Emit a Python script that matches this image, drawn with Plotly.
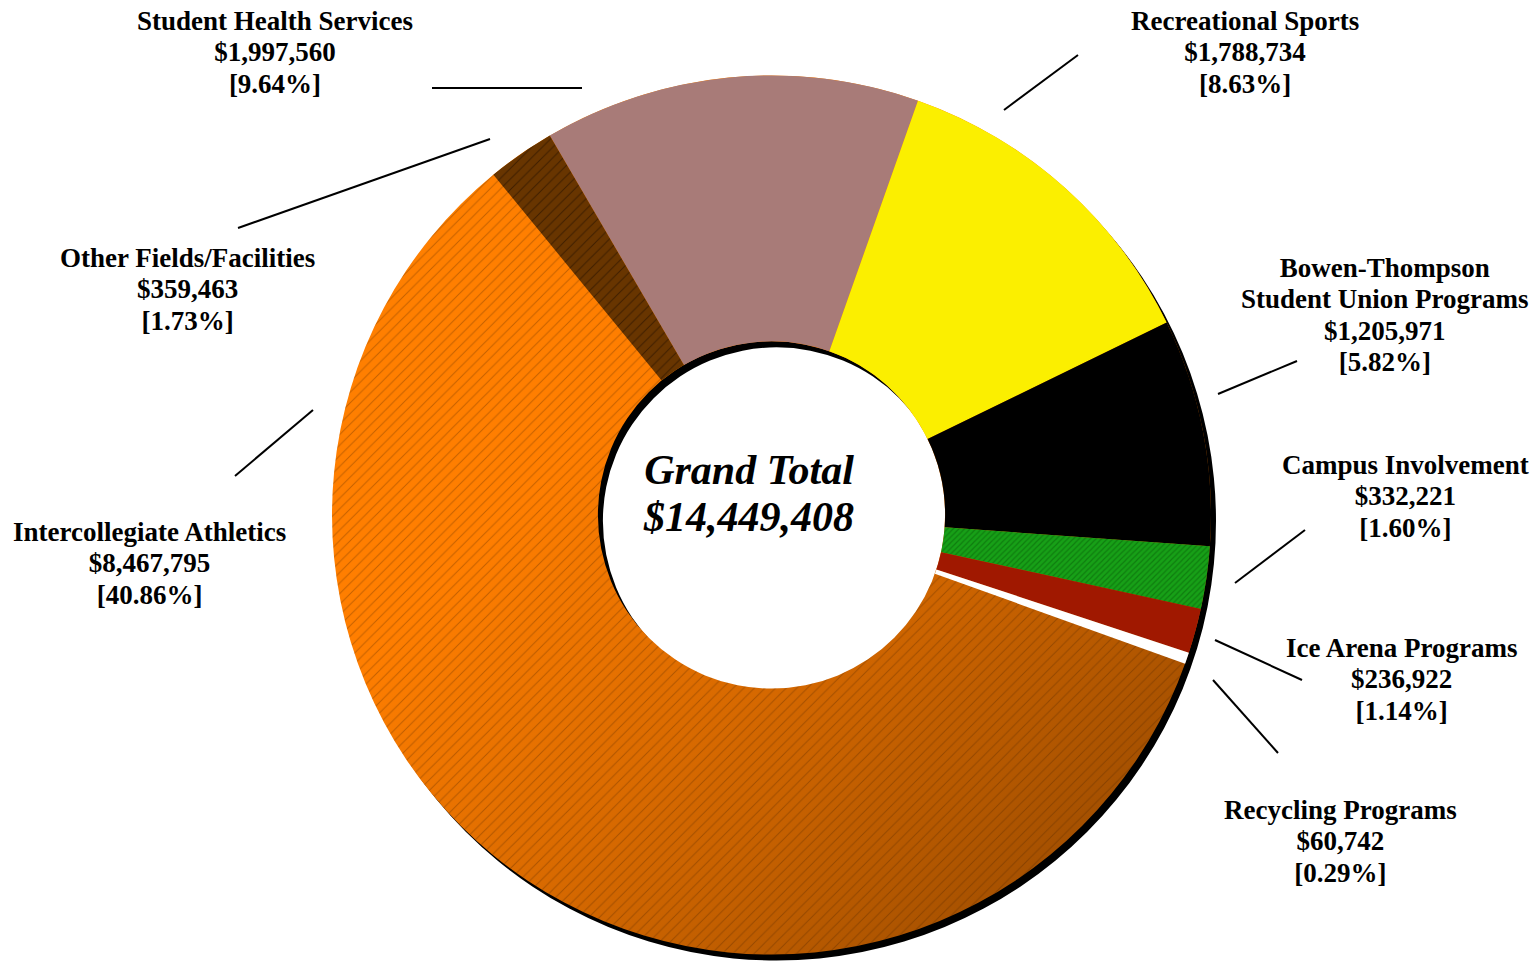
import base64
import plotly.graph_objects as go

# Budget lines, listed clockwise from the top of the ring
programs = [
    "Student Health Services",
    "Recreational Sports",
    "Bowen-Thompson Student Union Programs",
    "Campus Involvement",
    "Ice Arena Programs",
    "Recycling Programs",
    "Intercollegiate Athletics",
    "Other Fields/Facilities",
]
label_names = [
    ["Student Health Services"],
    ["Recreational Sports"],
    ["Bowen-Thompson", "Student Union Programs"],
    ["Campus Involvement"],
    ["Ice Arena Programs"],
    ["Recycling Programs"],
    ["Intercollegiate Athletics"],
    ["Other Fields/Facilities"],
]
amounts = [1997560, 1788734, 1205971, 332221, 236922, 60742, 8467795, 359463]
shares = [9.64, 8.63, 5.82, 1.60, 1.14, 0.29, 40.86, 1.73]
grand_total = 14449408

# ---- page geometry (pixels) ----
W, H = 1539, 962
CX, CY, R = 771.5, 515.0, 439.5
HOLE = 0.395
SHADOW_DX, SHADOW_DY = 5, 6


def px(x):
    return x / W


def py(y):
    return 1 - y / H


# slice styling
fills = ["#A87B78", "#FBEF00", "#000000", "#17A017", "#A01800", "#FFFFFF",
         "rgba(0,0,0,0)", "#683500"]
pat_shape = ["", "", "", "/", "", "", "/", "/"]
pat_size = [8, 8, 8, 4, 8, 8, 7.5, 7.5]
pat_solid = [0.1, 0.1, 0.1, 0.3, 0.1, 0.1, 0.13, 0.13]
pat_fg = ["#000", "#000", "#000", "rgba(0,60,0,0.35)", "#000", "#000",
          "rgba(70,30,0,0.32)", "rgba(20,8,0,0.5)"]
pat_bg = [c for c in fills]

# label anchor points (pixel centres) and leader segments
label_xy = [(275, 52), (1244.5, 52), (1384.5, 315.5), (1405, 496),
            (1401, 679), (1340, 841), (149, 563), (187, 290)]
leaders = [((432, 88), (582, 88)), ((1004, 110), (1078, 55)),
           ((1218, 394), (1297, 361)), ((1235, 583), (1305, 530)),
           ((1215, 640), (1302, 680)), ((1213, 680), (1278, 753)),
           ((235, 476), (313, 410)), ((238, 228), (490, 139))]

dom_x = [px(CX - R), px(CX + R)]
dom_y = [py(CY + R), py(CY - R)]


# backdrop: drop shadow ring plus the orange gradient that shows through the
# transparent athletics slice
def ring(cx, cy, ro, ri):
    return (f"M{cx - ro},{cy}a{ro},{ro} 0 1,0 {2 * ro},0a{ro},{ro} 0 1,0 {-2 * ro},0Z"
            f"M{cx - ri},{cy}a{ri},{ri} 0 1,0 {2 * ri},0a{ri},{ri} 0 1,0 {-2 * ri},0Z")


r_in = R * HOLE
svg = (
    f'<svg xmlns="http://www.w3.org/2000/svg" width="{W}" height="{H}" '
    f'viewBox="0 0 {W} {H}"><defs>'
    f'<linearGradient id="g" gradientUnits="userSpaceOnUse" x1="{CX - R}" y1="{CY - R}" '
    f'x2="{CX + R}" y2="{CY + R}">'
    '<stop offset="0" stop-color="#FF8000"/>'
    '<stop offset="0.35" stop-color="#FF7E00"/>'
    '<stop offset="0.6" stop-color="#D56800"/>'
    '<stop offset="1" stop-color="#8A4300"/>'
    '</linearGradient></defs>'
    f'<path d="{ring(CX + SHADOW_DX, CY + SHADOW_DY, R, r_in)}" fill="#000" fill-rule="evenodd"/>'
    f'<path d="{ring(CX, CY, R, r_in)}" fill="url(#g)" fill-rule="evenodd"/>'
    '</svg>'
)
backdrop = "data:image/svg+xml;base64," + base64.b64encode(svg.encode()).decode()

fig = go.Figure()
fig.add_trace(go.Pie(
    labels=programs,
    values=amounts,
    sort=False,
    direction="clockwise",
    rotation=-30.3,
    hole=HOLE,
    textinfo="none",
    hoverinfo="label+value",
    domain=dict(x=dom_x, y=dom_y),
    marker=dict(
        colors=fills,
        line=dict(width=0),
        pattern=dict(shape=pat_shape, size=pat_size, solidity=pat_solid,
                     fgcolor=pat_fg, bgcolor=pat_bg, fillmode="replace"),
    ),
    showlegend=False,
))


def sized(lines, size):
    return "<br>".join(f"<span style='font-size:{size}px'>{t}</span>" for t in lines)


# base font size sets the line pitch; the span size sets the glyphs
label_font = dict(family="Liberation Serif", size=24.2, color="black", weight="bold")
annotations = []
for name, amt, pct, (lx, ly) in zip(label_names, amounts, shares, label_xy):
    lines = name + [f"${amt:,}", f"[{pct:.2f}%]"]
    annotations.append(dict(
        x=px(lx), y=py(ly), xref="paper", yref="paper",
        xanchor="center", yanchor="middle", showarrow=False,
        text=sized(lines, 27), font=label_font, align="center",
    ))

centre_font = dict(family="Liberation Serif", size=35.8, color="black",
                   weight="bold", style="italic")
annotations.append(dict(x=px(748), y=py(493), xref="paper", yref="paper",
                        xanchor="center", yanchor="middle", showarrow=False,
                        text=sized(["Grand Total", f"${grand_total:,}"], 42),
                        font=centre_font, align="center"))

shapes = [dict(type="line", xref="paper", yref="paper",
               x0=px(a[0]), y0=py(a[1]), x1=px(b[0]), y1=py(b[1]),
               line=dict(color="black", width=2))
          for a, b in leaders]

fig.update_layout(
    width=W, height=H,
    margin=dict(l=0, r=0, t=0, b=0),
    paper_bgcolor="white",
    plot_bgcolor="white",
    showlegend=False,
    annotations=annotations,
    shapes=shapes,
    images=[dict(source=backdrop, xref="paper", yref="paper", x=0, y=1,
                 sizex=1, sizey=1, xanchor="left", yanchor="top",
                 sizing="stretch", layer="below")],
)

fig.write_html("out.html")
